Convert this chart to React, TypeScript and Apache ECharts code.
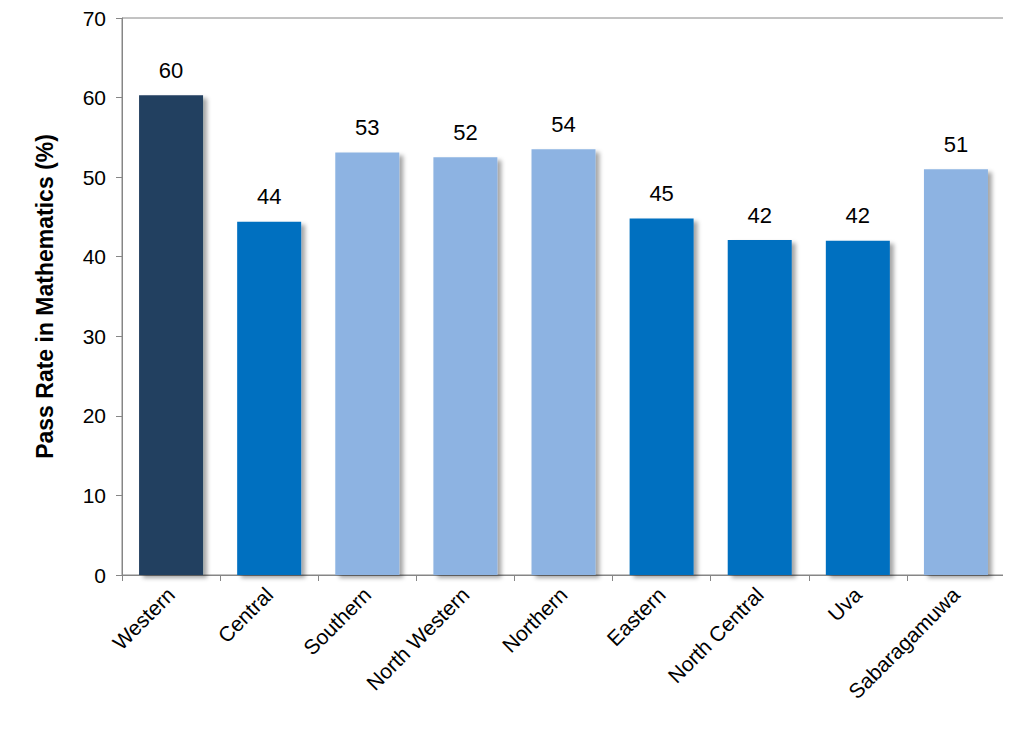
import { useEffect, useRef } from "react";
import * as echarts from "echarts";

const categories = ["Western", "Central", "Southern", "North Western", "Northern", "Eastern", "North Central", "Uva", "Sabaragamuwa"];
const values = [60.3, 44.4, 53.1, 52.5, 53.5, 44.8, 42.1, 42.0, 51.0];
const labels = ["60", "44", "53", "52", "54", "45", "42", "42", "51"];
const colors = ["#243F60", "#0070C0", "#8DB3E2", "#8DB3E2", "#8DB3E2", "#0070C0", "#0070C0", "#0070C0", "#8DB3E2"];

const App = () => {
  const ref = useRef<HTMLDivElement>(null);
  useEffect(() => {
    if (!ref.current) return;
    const chart = echarts.init(ref.current, null, { renderer: "svg" });
    chart.setOption({
      animation: false,
      textStyle: { fontFamily: "Liberation Sans, Arial, sans-serif" },
      grid: { left: 122, right: 6, top: 18, bottom: 176, show: true, borderColor: "#868686", borderWidth: 1 },
      xAxis: {
        type: "category",
        data: categories,
        axisLine: { lineStyle: { color: "#868686" } },
        axisTick: { show: true, interval: 0, length: 6, lineStyle: { color: "#868686" } },
        axisLabel: { rotate: 45, interval: 0, fontSize: 21, color: "#000", margin: 16 },
      },
      yAxis: {
        type: "value",
        min: 0,
        max: 70,
        interval: 10,
        name: "Pass Rate in Mathematics (%)",
        nameLocation: "middle",
        nameGap: 66,
        nameTextStyle: { fontSize: 23, fontWeight: "bold", color: "#000" },
        axisLine: { show: true, lineStyle: { color: "#868686" } },
        axisTick: { show: true, length: 6, lineStyle: { color: "#868686" } },
        axisLabel: { fontSize: 21, color: "#000", margin: 16 },
        splitLine: { show: false },
      },
      series: [
        {
          type: "bar",
          barWidth: 64,
          data: values.map((v, i) => ({
            value: v,
            itemStyle: { color: colors[i] },
            label: { formatter: labels[i] },
          })),
          itemStyle: { shadowColor: "rgba(0,0,0,0.35)", shadowBlur: 4, shadowOffsetX: 4, shadowOffsetY: 3 },
          label: { show: true, position: "top", distance: 14, fontSize: 22, color: "#000" },
        },
      ],
    });
    return () => chart.dispose();
  }, []);
  return <div ref={ref} style={{ width: "1011px", height: "751px", margin: "-8px" }}></div>;
};

export default App;
